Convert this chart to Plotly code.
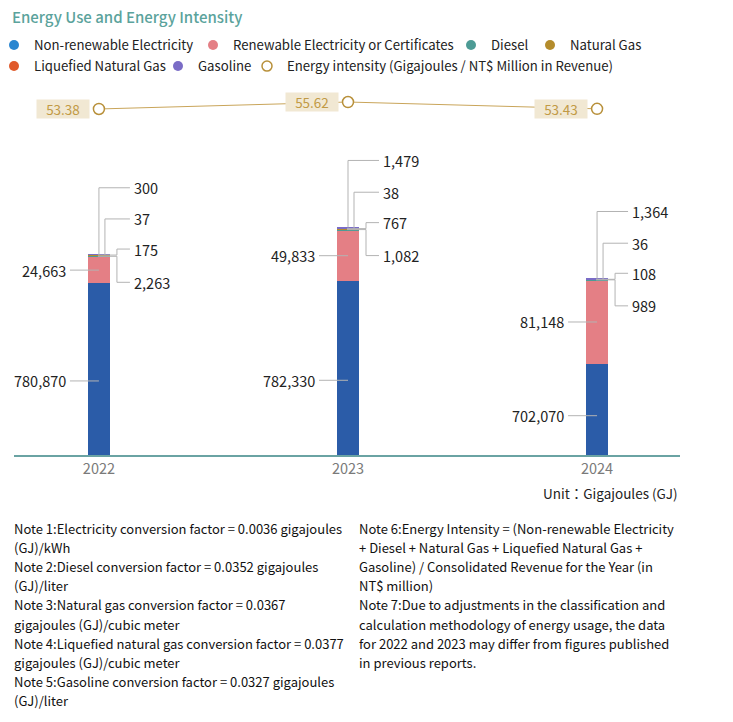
import plotly.graph_objects as go

# ---------------- data ----------------
years = ["2022", "2023", "2024"]
non_renewable = [780870, 782330, 702070]
renewable = [24663, 49833, 81148]
diesel = [2263, 1082, 989]
natural_gas = [175, 767, 108]
lng = [37, 38, 36]
gasoline = [300, 1479, 1364]
intensity = [53.38, 55.62, 53.43]

series_names = ["Non-renewable Electricity", "Renewable Electricity or Certificates",
                "Diesel", "Natural Gas", "Liquefied Natural Gas", "Gasoline"]
intensity_name = "Energy intensity (Gigajoules / NT$ Million in Revenue)"

title_text = "Energy Use and Energy Intensity"
unit_text = "Unit：Gigajoules (GJ)"
notes_left = [
    "Note 1:Electricity conversion factor = 0.0036 gigajoules",
    "(GJ)/kWh",
    "Note 2:Diesel conversion factor = 0.0352 gigajoules",
    "(GJ)/liter",
    "Note 3:Natural gas conversion factor = 0.0367",
    "gigajoules (GJ)/cubic meter",
    "Note 4:Liquefied natural gas conversion factor = 0.0377",
    "gigajoules (GJ)/cubic meter",
    "Note 5:Gasoline conversion factor = 0.0327 gigajoules",
    "(GJ)/liter",
]
notes_right = [
    "Note 6:Energy Intensity = (Non-renewable Electricity",
    "+ Diesel + Natural Gas + Liquefied Natural Gas +",
    "Gasoline) / Consolidated Revenue for the Year (in",
    "NT$ million)",
    "Note 7:Due to adjustments in the classification and",
    "calculation methodology of energy usage, the data",
    "for 2022 and 2023 may differ from figures published",
    "in previous reports.",
]

# ---------------- style ----------------
FONT = "Noto Sans CJK TC"
W, H = 733, 722
ML, MR, MT, MB = 14, 53, 90, 267
PLOT_W = W - ML - MR
PLOT_H = H - MT - MB
bar_colors = ["#2b5ca8", "#e47f85", "#4d9b95", "#b48c2c", "#e05a2b", "#7a6cc6"]
legend_colors = ["#2a86d0", "#e47f85", "#4d9b95", "#b48c2c", "#e05a2b", "#7a6cc6"]
# legend item placement (left edge px, row top px) for the 7 entries
legend_pos = [(-6, 30), (193, 30), (451, 30), (530, 30), (-6, 51), (158, 51), (247, 51)]
gold_line = "#c9a55a"
gold_marker = "#b8903a"
leader_color = "#b3b3b3"
label_color = "#222222"

Y_MIN = 613000
PX_PER_UNIT = 0.001026
Y_MAX = Y_MIN + PLOT_H / PX_PER_UNIT
Y2_RANGE = [-58.2, 59.5]
X_RANGE = [-0.341, 2.333]

xs = list(range(len(years)))
stack = [non_renewable, renewable, diesel, natural_gas, lng, gasoline]

fig = go.Figure()

for name, vals, col in zip(series_names, stack, bar_colors):
    fig.add_trace(go.Bar(x=xs, y=vals, name=name, marker=dict(color=col, line=dict(width=0)),
                         width=0.09, showlegend=False, hoverinfo="skip"))

fig.add_trace(go.Scatter(x=xs, y=intensity, yaxis="y2", mode="lines+markers",
                         line=dict(color=gold_line, width=1),
                         marker=dict(size=11, color="white", line=dict(color=gold_marker, width=1.5)),
                         showlegend=False, hoverinfo="skip"))

legend_ids = ["legend"] + [f"legend{i}" for i in range(2, len(legend_pos) + 1)]

# legend entries (circle symbols)
for name, col, lg in zip(series_names, legend_colors, legend_ids):
    fig.add_trace(go.Scatter(x=[None], y=[None], mode="markers", name=name, legend=lg,
                             marker=dict(size=10, color=col)))
fig.add_trace(go.Scatter(x=[None], y=[None], mode="markers", name=intensity_name, legend=legend_ids[-1],
                         marker=dict(size=10, color="white", line=dict(color=gold_marker, width=1.5))))

shapes = []
annotations = []


def fmt(v):
    return f"{v:,}"


def label(x, y, text, path, dx, dy, anchor):
    shapes.append(dict(type="path", xref="x", yref="y", xsizemode="pixel", ysizemode="pixel",
                       xanchor=x, yanchor=y, path=path, layer="above",
                       line=dict(color=leader_color, width=1)))
    annotations.append(dict(x=x, y=y, xref="x", yref="y", text=text, showarrow=False,
                            xanchor=anchor, yanchor="middle", xshift=dx, yshift=dy,
                            font=dict(family=FONT, size=14.5, color=label_color)))


# stacked bar labels
right_specs = {
    5: ("M 0,0 V 67 H 31", 67),     # gasoline
    4: ("M 6,0 V 36 H 31", 36),     # LNG
    3: ("M -1,0 H 18 V 6 H 31", 6),  # natural gas
    2: ("M -1,0 H 18 V -26 H 31", -26),  # diesel
}
for i, x in enumerate(xs):
    base = 0
    bounds = []
    for vals in stack:
        bounds.append((base, base + vals[i]))
        base += vals[i]
    b0, b1 = bounds[0]
    vis0 = max(b0, Y_MIN)
    label(x, vis0 + 0.43 * (b1 - vis0), fmt(stack[0][i]), "M 0,0 H -29", -31, 0, "right")
    b0, b1 = bounds[1]
    label(x, (b0 + b1) / 2, fmt(stack[1][i]), "M 0,0 H -29", -31, 0, "right")
    for k, (path, dy) in right_specs.items():
        b0, b1 = bounds[k]
        label(x, (b0 + b1) / 2, fmt(stack[k][i]), path, 33, dy, "left")

# intensity pills
for x, v in zip(xs, intensity):
    annotations.append(dict(x=x, y=v, xref="x", yref="y2", text=f"{v:.2f}", showarrow=False,
                            xshift=-36, width=50, height=16, bgcolor="#f1e8d3", borderpad=1,
                            font=dict(family=FONT, size=13.5, color="#c19a45")))


def py(p):
    return (MT + PLOT_H - p) / PLOT_H


def px(p):
    return (p - ML) / PLOT_W


annotations.append(dict(x=1, y=py(493), xref="paper", yref="paper", text=unit_text, showarrow=False,
                        xanchor="right", yanchor="middle",
                        font=dict(family=FONT, size=13.5, color=label_color)))

LINE_H = 19.2
for j, t in enumerate(notes_left):
    annotations.append(dict(x=px(12), y=py(528 + j * LINE_H), xref="paper", yref="paper", text=t,
                            showarrow=False, xanchor="left", yanchor="middle",
                            font=dict(family=FONT, size=13, color="#111111")))
for j, t in enumerate(notes_right):
    annotations.append(dict(x=px(357), y=py(528 + j * LINE_H), xref="paper", yref="paper", text=t,
                            showarrow=False, xanchor="left", yanchor="middle",
                            font=dict(family=FONT, size=13, color="#111111")))

legend_style = dict(orientation="h", xanchor="left", yanchor="top",
                    font=dict(family=FONT, size=13.2, color=label_color), traceorder="normal",
                    itemwidth=30, bgcolor="rgba(0,0,0,0)")
legends = {lg: dict(x=px(lx), y=py(ly), **legend_style) for lg, (lx, ly) in zip(legend_ids, legend_pos)}

fig.update_layout(
    width=W, height=H,
    margin=dict(l=ML, r=MR, t=MT, b=MB, autoexpand=False),
    paper_bgcolor="white", plot_bgcolor="white",
    barmode="stack",
    bargap=0,
    hovermode=False,
    font=dict(family=FONT, color=label_color),
    title=dict(text=title_text, xref="container", yref="container", x=12 / W, y=1 - 18 / H,
               xanchor="left", yanchor="middle",
               font=dict(family=FONT, size=15, color="#5ba39c", weight=500)),
    xaxis=dict(range=X_RANGE, tickvals=xs, ticktext=years, showline=True, linecolor="#6aa3a3",
               linewidth=1.5, showgrid=False, zeroline=False, ticks="",
               tickfont=dict(family=FONT, size=14.5, color="#7a7a7a"), fixedrange=True),
    yaxis=dict(range=[Y_MIN, Y_MAX], visible=False, showgrid=False, fixedrange=True),
    yaxis2=dict(range=Y2_RANGE, overlaying="y", visible=False, showgrid=False, fixedrange=True),
    shapes=shapes,
    annotations=annotations,
    **legends,
)

fig.write_html("out.html", config={"displayModeBar": False},
               post_script="document.body.style.margin='0';document.body.style.overflow='hidden';")
